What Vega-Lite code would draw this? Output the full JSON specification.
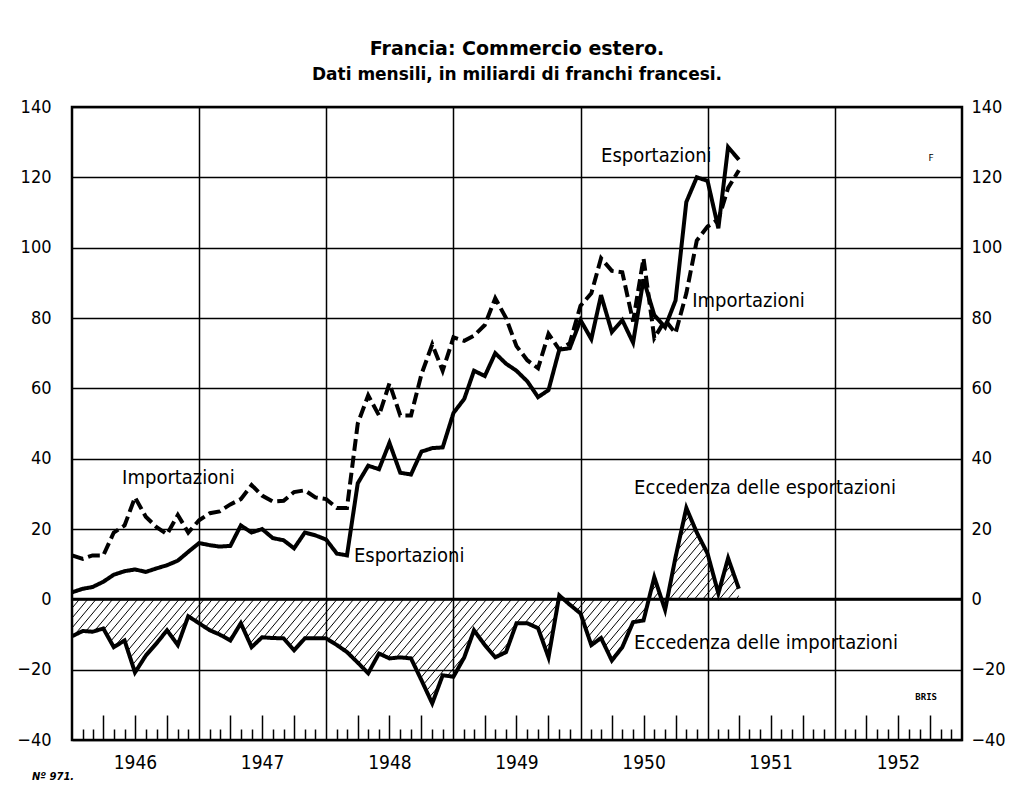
{
"$schema":"https://vega.github.io/schema/vega-lite/v6.json",
"width":890,"height":633,
"autosize":{"type":"none"},
"padding":{"left":72,"top":107,"right":48,"bottom":51},
"background":"white",
"title":{"text":"Francia: Commercio estero.","subtitle":"Dati mensili, in miliardi di franchi francesi.","anchor":"middle","font":"DejaVu Sans","fontSize":19,"fontWeight":"bold","color":"black","subtitleFont":"DejaVu Sans","subtitleFontSize":17,"subtitleFontWeight":"bold","subtitleColor":"black","subtitlePadding":8,"offset":15},
"config":{"view":{"stroke":"black","strokeWidth":2.5},"axis":{"labelColor":"black"}},
"datasets":{
"trade":[
{"date":"1946-01-01","serie":"Importazioni","value":12.5},{"date":"1946-02-01","serie":"Importazioni","value":11.5},{"date":"1946-03-01","serie":"Importazioni","value":12.5},{"date":"1946-04-01","serie":"Importazioni","value":12.5},{"date":"1946-05-01","serie":"Importazioni","value":19},{"date":"1946-06-01","serie":"Importazioni","value":21},{"date":"1946-07-01","serie":"Importazioni","value":29},{"date":"1946-08-01","serie":"Importazioni","value":23.5},{"date":"1946-09-01","serie":"Importazioni","value":20.5},{"date":"1946-10-01","serie":"Importazioni","value":18.5},{"date":"1946-11-01","serie":"Importazioni","value":24},{"date":"1946-12-01","serie":"Importazioni","value":19},
{"date":"1947-01-01","serie":"Importazioni","value":22.5},{"date":"1947-02-01","serie":"Importazioni","value":24.5},{"date":"1947-03-01","serie":"Importazioni","value":25},{"date":"1947-04-01","serie":"Importazioni","value":27},{"date":"1947-05-01","serie":"Importazioni","value":28.5},{"date":"1947-06-01","serie":"Importazioni","value":32.5},{"date":"1947-07-01","serie":"Importazioni","value":29.5},{"date":"1947-08-01","serie":"Importazioni","value":27.8},{"date":"1947-09-01","serie":"Importazioni","value":28},{"date":"1947-10-01","serie":"Importazioni","value":30.5},{"date":"1947-11-01","serie":"Importazioni","value":31},{"date":"1947-12-01","serie":"Importazioni","value":29},
{"date":"1948-01-01","serie":"Importazioni","value":28.5},{"date":"1948-02-01","serie":"Importazioni","value":26},{"date":"1948-03-01","serie":"Importazioni","value":26},{"date":"1948-04-01","serie":"Importazioni","value":50},{"date":"1948-05-01","serie":"Importazioni","value":58},{"date":"1948-06-01","serie":"Importazioni","value":52.3},{"date":"1948-07-01","serie":"Importazioni","value":61.4},{"date":"1948-08-01","serie":"Importazioni","value":52.3},{"date":"1948-09-01","serie":"Importazioni","value":52.3},{"date":"1948-10-01","serie":"Importazioni","value":64},{"date":"1948-11-01","serie":"Importazioni","value":72.5},{"date":"1948-12-01","serie":"Importazioni","value":65},
{"date":"1949-01-01","serie":"Importazioni","value":74.5},{"date":"1949-02-01","serie":"Importazioni","value":73.5},{"date":"1949-03-01","serie":"Importazioni","value":75},{"date":"1949-04-01","serie":"Importazioni","value":78},{"date":"1949-05-01","serie":"Importazioni","value":85.6},{"date":"1949-06-01","serie":"Importazioni","value":80},{"date":"1949-07-01","serie":"Importazioni","value":72},{"date":"1949-08-01","serie":"Importazioni","value":68},{"date":"1949-09-01","serie":"Importazioni","value":65.7},{"date":"1949-10-01","serie":"Importazioni","value":75.5},{"date":"1949-11-01","serie":"Importazioni","value":71},{"date":"1949-12-01","serie":"Importazioni","value":72.8},
{"date":"1950-01-01","serie":"Importazioni","value":83.5},{"date":"1950-02-01","serie":"Importazioni","value":87},{"date":"1950-03-01","serie":"Importazioni","value":97},{"date":"1950-04-01","serie":"Importazioni","value":93.4},{"date":"1950-05-01","serie":"Importazioni","value":93},{"date":"1950-06-01","serie":"Importazioni","value":79},{"date":"1950-07-01","serie":"Importazioni","value":97},{"date":"1950-08-01","serie":"Importazioni","value":74.3},{"date":"1950-09-01","serie":"Importazioni","value":79.4},{"date":"1950-10-01","serie":"Importazioni","value":75.7},{"date":"1950-11-01","serie":"Importazioni","value":87},{"date":"1950-12-01","serie":"Importazioni","value":102},
{"date":"1951-01-01","serie":"Importazioni","value":106},{"date":"1951-02-01","serie":"Importazioni","value":108},{"date":"1951-03-01","serie":"Importazioni","value":117},{"date":"1951-04-01","serie":"Importazioni","value":122},
{"date":"1946-01-01","serie":"Esportazioni","value":2},{"date":"1946-02-01","serie":"Esportazioni","value":3},{"date":"1946-03-01","serie":"Esportazioni","value":3.5},{"date":"1946-04-01","serie":"Esportazioni","value":5},{"date":"1946-05-01","serie":"Esportazioni","value":7},{"date":"1946-06-01","serie":"Esportazioni","value":8},{"date":"1946-07-01","serie":"Esportazioni","value":8.5},{"date":"1946-08-01","serie":"Esportazioni","value":7.8},{"date":"1946-09-01","serie":"Esportazioni","value":8.8},{"date":"1946-10-01","serie":"Esportazioni","value":9.7},{"date":"1946-11-01","serie":"Esportazioni","value":11},{"date":"1946-12-01","serie":"Esportazioni","value":13.5},
{"date":"1947-01-01","serie":"Esportazioni","value":16},{"date":"1947-02-01","serie":"Esportazioni","value":15.4},{"date":"1947-03-01","serie":"Esportazioni","value":15},{"date":"1947-04-01","serie":"Esportazioni","value":15.2},{"date":"1947-05-01","serie":"Esportazioni","value":21},{"date":"1947-06-01","serie":"Esportazioni","value":19},{"date":"1947-07-01","serie":"Esportazioni","value":20},{"date":"1947-08-01","serie":"Esportazioni","value":17.4},{"date":"1947-09-01","serie":"Esportazioni","value":16.8},{"date":"1947-10-01","serie":"Esportazioni","value":14.5},{"date":"1947-11-01","serie":"Esportazioni","value":19},{"date":"1947-12-01","serie":"Esportazioni","value":18.2},
{"date":"1948-01-01","serie":"Esportazioni","value":17},{"date":"1948-02-01","serie":"Esportazioni","value":13},{"date":"1948-03-01","serie":"Esportazioni","value":12.5},{"date":"1948-04-01","serie":"Esportazioni","value":33},{"date":"1948-05-01","serie":"Esportazioni","value":38},{"date":"1948-06-01","serie":"Esportazioni","value":37},{"date":"1948-07-01","serie":"Esportazioni","value":44.5},{"date":"1948-08-01","serie":"Esportazioni","value":36},{"date":"1948-09-01","serie":"Esportazioni","value":35.5},{"date":"1948-10-01","serie":"Esportazioni","value":42},{"date":"1948-11-01","serie":"Esportazioni","value":43},{"date":"1948-12-01","serie":"Esportazioni","value":43.2},
{"date":"1949-01-01","serie":"Esportazioni","value":53},{"date":"1949-02-01","serie":"Esportazioni","value":57},{"date":"1949-03-01","serie":"Esportazioni","value":65},{"date":"1949-04-01","serie":"Esportazioni","value":63.5},{"date":"1949-05-01","serie":"Esportazioni","value":70},{"date":"1949-06-01","serie":"Esportazioni","value":67},{"date":"1949-07-01","serie":"Esportazioni","value":65},{"date":"1949-08-01","serie":"Esportazioni","value":62},{"date":"1949-09-01","serie":"Esportazioni","value":57.5},{"date":"1949-10-01","serie":"Esportazioni","value":59.5},{"date":"1949-11-01","serie":"Esportazioni","value":71},{"date":"1949-12-01","serie":"Esportazioni","value":71.4},
{"date":"1950-01-01","serie":"Esportazioni","value":79.4},{"date":"1950-02-01","serie":"Esportazioni","value":74},{"date":"1950-03-01","serie":"Esportazioni","value":86.5},{"date":"1950-04-01","serie":"Esportazioni","value":76},{"date":"1950-05-01","serie":"Esportazioni","value":79.4},{"date":"1950-06-01","serie":"Esportazioni","value":73},{"date":"1950-07-01","serie":"Esportazioni","value":91},{"date":"1950-08-01","serie":"Esportazioni","value":80.8},{"date":"1950-09-01","serie":"Esportazioni","value":77.4},{"date":"1950-10-01","serie":"Esportazioni","value":85},{"date":"1950-11-01","serie":"Esportazioni","value":113},{"date":"1950-12-01","serie":"Esportazioni","value":120},
{"date":"1951-01-01","serie":"Esportazioni","value":119},{"date":"1951-02-01","serie":"Esportazioni","value":105.5},{"date":"1951-03-01","serie":"Esportazioni","value":128.6},{"date":"1951-04-01","serie":"Esportazioni","value":125},
{"date":"1946-01-01","serie":"Saldo","value":-10.5},{"date":"1946-02-01","serie":"Saldo","value":-9},{"date":"1946-03-01","serie":"Saldo","value":-9.2},{"date":"1946-04-01","serie":"Saldo","value":-8.3},{"date":"1946-05-01","serie":"Saldo","value":-13.6},{"date":"1946-06-01","serie":"Saldo","value":-11.7},{"date":"1946-07-01","serie":"Saldo","value":-20.8},{"date":"1946-08-01","serie":"Saldo","value":-16},{"date":"1946-09-01","serie":"Saldo","value":-12.5},{"date":"1946-10-01","serie":"Saldo","value":-8.8},{"date":"1946-11-01","serie":"Saldo","value":-13},{"date":"1946-12-01","serie":"Saldo","value":-4.8},
{"date":"1947-01-01","serie":"Saldo","value":-6.8},{"date":"1947-02-01","serie":"Saldo","value":-8.8},{"date":"1947-03-01","serie":"Saldo","value":-10},{"date":"1947-04-01","serie":"Saldo","value":-11.7},{"date":"1947-05-01","serie":"Saldo","value":-6.8},{"date":"1947-06-01","serie":"Saldo","value":-13.6},{"date":"1947-07-01","serie":"Saldo","value":-10.8},{"date":"1947-08-01","serie":"Saldo","value":-11},{"date":"1947-09-01","serie":"Saldo","value":-11.1},{"date":"1947-10-01","serie":"Saldo","value":-14.5},{"date":"1947-11-01","serie":"Saldo","value":-11.1},{"date":"1947-12-01","serie":"Saldo","value":-11.1},
{"date":"1948-01-01","serie":"Saldo","value":-11.1},{"date":"1948-02-01","serie":"Saldo","value":-13},{"date":"1948-03-01","serie":"Saldo","value":-15},{"date":"1948-04-01","serie":"Saldo","value":-18},{"date":"1948-05-01","serie":"Saldo","value":-21},{"date":"1948-06-01","serie":"Saldo","value":-15.4},{"date":"1948-07-01","serie":"Saldo","value":-16.8},{"date":"1948-08-01","serie":"Saldo","value":-16.5},{"date":"1948-09-01","serie":"Saldo","value":-16.8},{"date":"1948-10-01","serie":"Saldo","value":-23},{"date":"1948-11-01","serie":"Saldo","value":-29.6},{"date":"1948-12-01","serie":"Saldo","value":-21.6},
{"date":"1949-01-01","serie":"Saldo","value":-22},{"date":"1949-02-01","serie":"Saldo","value":-16.5},{"date":"1949-03-01","serie":"Saldo","value":-8.8},{"date":"1949-04-01","serie":"Saldo","value":-13},{"date":"1949-05-01","serie":"Saldo","value":-16.5},{"date":"1949-06-01","serie":"Saldo","value":-15},{"date":"1949-07-01","serie":"Saldo","value":-6.8},{"date":"1949-08-01","serie":"Saldo","value":-6.8},{"date":"1949-09-01","serie":"Saldo","value":-8.2},{"date":"1949-10-01","serie":"Saldo","value":-16.5},{"date":"1949-11-01","serie":"Saldo","value":1.1},{"date":"1949-12-01","serie":"Saldo","value":-1.5},
{"date":"1950-01-01","serie":"Saldo","value":-4},{"date":"1950-02-01","serie":"Saldo","value":-13},{"date":"1950-03-01","serie":"Saldo","value":-11},{"date":"1950-04-01","serie":"Saldo","value":-17.4},{"date":"1950-05-01","serie":"Saldo","value":-13.6},{"date":"1950-06-01","serie":"Saldo","value":-6.5},{"date":"1950-07-01","serie":"Saldo","value":-6},{"date":"1950-08-01","serie":"Saldo","value":6.3},{"date":"1950-09-01","serie":"Saldo","value":-3},{"date":"1950-10-01","serie":"Saldo","value":12},{"date":"1950-11-01","serie":"Saldo","value":26},{"date":"1950-12-01","serie":"Saldo","value":19},
{"date":"1951-01-01","serie":"Saldo","value":13},{"date":"1951-02-01","serie":"Saldo","value":1.7},{"date":"1951-03-01","serie":"Saldo","value":11.7},{"date":"1951-04-01","serie":"Saldo","value":3}
],
"labels":[
{"date":"1946-05-25","value":34.4,"text":"Importazioni"},
{"date":"1948-03-21","value":12.3,"text":"Esportazioni"},
{"date":"1950-03-01","value":126,"text":"Esportazioni"},
{"date":"1950-11-18","value":84.8,"text":"Importazioni"},
{"date":"1950-06-04","value":31.6,"text":"Eccedenza delle esportazioni"},
{"date":"1950-06-04","value":-12.5,"text":"Eccedenza delle importazioni"}
]
},
"layer":[
{"data":{"name":"trade"},
 "transform":[{"filter":"datum.serie === 'Saldo'"}],
 "mark":{"type":"area","interpolate":"linear","fill":{"gradient":"linear","x1":0,"y1":0,"x2":1.175,"y2":0.289,"stops":[
{"offset":0,"color":"rgba(0,0,0,0)"},{"offset":0.0012,"color":"#000"},{"offset":0.0024,"color":"rgba(0,0,0,0)"},
{"offset":0.01,"color":"rgba(0,0,0,0)"},{"offset":0.0112,"color":"#000"},{"offset":0.0124,"color":"rgba(0,0,0,0)"},
{"offset":0.02,"color":"rgba(0,0,0,0)"},{"offset":0.0212,"color":"#000"},{"offset":0.0224,"color":"rgba(0,0,0,0)"},
{"offset":0.03,"color":"rgba(0,0,0,0)"},{"offset":0.0312,"color":"#000"},{"offset":0.0324,"color":"rgba(0,0,0,0)"},
{"offset":0.04,"color":"rgba(0,0,0,0)"},{"offset":0.0412,"color":"#000"},{"offset":0.0424,"color":"rgba(0,0,0,0)"},
{"offset":0.05,"color":"rgba(0,0,0,0)"},{"offset":0.0512,"color":"#000"},{"offset":0.0524,"color":"rgba(0,0,0,0)"},
{"offset":0.06,"color":"rgba(0,0,0,0)"},{"offset":0.0612,"color":"#000"},{"offset":0.0624,"color":"rgba(0,0,0,0)"},
{"offset":0.07,"color":"rgba(0,0,0,0)"},{"offset":0.0712,"color":"#000"},{"offset":0.0724,"color":"rgba(0,0,0,0)"},
{"offset":0.08,"color":"rgba(0,0,0,0)"},{"offset":0.0812,"color":"#000"},{"offset":0.0824,"color":"rgba(0,0,0,0)"},
{"offset":0.09,"color":"rgba(0,0,0,0)"},{"offset":0.0912,"color":"#000"},{"offset":0.0924,"color":"rgba(0,0,0,0)"},
{"offset":0.10,"color":"rgba(0,0,0,0)"},{"offset":0.1012,"color":"#000"},{"offset":0.1024,"color":"rgba(0,0,0,0)"},
{"offset":0.11,"color":"rgba(0,0,0,0)"},{"offset":0.1112,"color":"#000"},{"offset":0.1124,"color":"rgba(0,0,0,0)"},
{"offset":0.12,"color":"rgba(0,0,0,0)"},{"offset":0.1212,"color":"#000"},{"offset":0.1224,"color":"rgba(0,0,0,0)"},
{"offset":0.13,"color":"rgba(0,0,0,0)"},{"offset":0.1312,"color":"#000"},{"offset":0.1324,"color":"rgba(0,0,0,0)"},
{"offset":0.14,"color":"rgba(0,0,0,0)"},{"offset":0.1412,"color":"#000"},{"offset":0.1424,"color":"rgba(0,0,0,0)"},
{"offset":0.15,"color":"rgba(0,0,0,0)"},{"offset":0.1512,"color":"#000"},{"offset":0.1524,"color":"rgba(0,0,0,0)"},
{"offset":0.16,"color":"rgba(0,0,0,0)"},{"offset":0.1612,"color":"#000"},{"offset":0.1624,"color":"rgba(0,0,0,0)"},
{"offset":0.17,"color":"rgba(0,0,0,0)"},{"offset":0.1712,"color":"#000"},{"offset":0.1724,"color":"rgba(0,0,0,0)"},
{"offset":0.18,"color":"rgba(0,0,0,0)"},{"offset":0.1812,"color":"#000"},{"offset":0.1824,"color":"rgba(0,0,0,0)"},
{"offset":0.19,"color":"rgba(0,0,0,0)"},{"offset":0.1912,"color":"#000"},{"offset":0.1924,"color":"rgba(0,0,0,0)"},
{"offset":0.20,"color":"rgba(0,0,0,0)"},{"offset":0.2012,"color":"#000"},{"offset":0.2024,"color":"rgba(0,0,0,0)"},
{"offset":0.21,"color":"rgba(0,0,0,0)"},{"offset":0.2112,"color":"#000"},{"offset":0.2124,"color":"rgba(0,0,0,0)"},
{"offset":0.22,"color":"rgba(0,0,0,0)"},{"offset":0.2212,"color":"#000"},{"offset":0.2224,"color":"rgba(0,0,0,0)"},
{"offset":0.23,"color":"rgba(0,0,0,0)"},{"offset":0.2312,"color":"#000"},{"offset":0.2324,"color":"rgba(0,0,0,0)"},
{"offset":0.24,"color":"rgba(0,0,0,0)"},{"offset":0.2412,"color":"#000"},{"offset":0.2424,"color":"rgba(0,0,0,0)"},
{"offset":0.25,"color":"rgba(0,0,0,0)"},{"offset":0.2512,"color":"#000"},{"offset":0.2524,"color":"rgba(0,0,0,0)"},
{"offset":0.26,"color":"rgba(0,0,0,0)"},{"offset":0.2612,"color":"#000"},{"offset":0.2624,"color":"rgba(0,0,0,0)"},
{"offset":0.27,"color":"rgba(0,0,0,0)"},{"offset":0.2712,"color":"#000"},{"offset":0.2724,"color":"rgba(0,0,0,0)"},
{"offset":0.28,"color":"rgba(0,0,0,0)"},{"offset":0.2812,"color":"#000"},{"offset":0.2824,"color":"rgba(0,0,0,0)"},
{"offset":0.29,"color":"rgba(0,0,0,0)"},{"offset":0.2912,"color":"#000"},{"offset":0.2924,"color":"rgba(0,0,0,0)"},
{"offset":0.30,"color":"rgba(0,0,0,0)"},{"offset":0.3012,"color":"#000"},{"offset":0.3024,"color":"rgba(0,0,0,0)"},
{"offset":0.31,"color":"rgba(0,0,0,0)"},{"offset":0.3112,"color":"#000"},{"offset":0.3124,"color":"rgba(0,0,0,0)"},
{"offset":0.32,"color":"rgba(0,0,0,0)"},{"offset":0.3212,"color":"#000"},{"offset":0.3224,"color":"rgba(0,0,0,0)"},
{"offset":0.33,"color":"rgba(0,0,0,0)"},{"offset":0.3312,"color":"#000"},{"offset":0.3324,"color":"rgba(0,0,0,0)"},
{"offset":0.34,"color":"rgba(0,0,0,0)"},{"offset":0.3412,"color":"#000"},{"offset":0.3424,"color":"rgba(0,0,0,0)"},
{"offset":0.35,"color":"rgba(0,0,0,0)"},{"offset":0.3512,"color":"#000"},{"offset":0.3524,"color":"rgba(0,0,0,0)"},
{"offset":0.36,"color":"rgba(0,0,0,0)"},{"offset":0.3612,"color":"#000"},{"offset":0.3624,"color":"rgba(0,0,0,0)"},
{"offset":0.37,"color":"rgba(0,0,0,0)"},{"offset":0.3712,"color":"#000"},{"offset":0.3724,"color":"rgba(0,0,0,0)"},
{"offset":0.38,"color":"rgba(0,0,0,0)"},{"offset":0.3812,"color":"#000"},{"offset":0.3824,"color":"rgba(0,0,0,0)"},
{"offset":0.39,"color":"rgba(0,0,0,0)"},{"offset":0.3912,"color":"#000"},{"offset":0.3924,"color":"rgba(0,0,0,0)"},
{"offset":0.40,"color":"rgba(0,0,0,0)"},{"offset":0.4012,"color":"#000"},{"offset":0.4024,"color":"rgba(0,0,0,0)"},
{"offset":0.41,"color":"rgba(0,0,0,0)"},{"offset":0.4112,"color":"#000"},{"offset":0.4124,"color":"rgba(0,0,0,0)"},
{"offset":0.42,"color":"rgba(0,0,0,0)"},{"offset":0.4212,"color":"#000"},{"offset":0.4224,"color":"rgba(0,0,0,0)"},
{"offset":0.43,"color":"rgba(0,0,0,0)"},{"offset":0.4312,"color":"#000"},{"offset":0.4324,"color":"rgba(0,0,0,0)"},
{"offset":0.44,"color":"rgba(0,0,0,0)"},{"offset":0.4412,"color":"#000"},{"offset":0.4424,"color":"rgba(0,0,0,0)"},
{"offset":0.45,"color":"rgba(0,0,0,0)"},{"offset":0.4512,"color":"#000"},{"offset":0.4524,"color":"rgba(0,0,0,0)"},
{"offset":0.46,"color":"rgba(0,0,0,0)"},{"offset":0.4612,"color":"#000"},{"offset":0.4624,"color":"rgba(0,0,0,0)"},
{"offset":0.47,"color":"rgba(0,0,0,0)"},{"offset":0.4712,"color":"#000"},{"offset":0.4724,"color":"rgba(0,0,0,0)"},
{"offset":0.48,"color":"rgba(0,0,0,0)"},{"offset":0.4812,"color":"#000"},{"offset":0.4824,"color":"rgba(0,0,0,0)"},
{"offset":0.49,"color":"rgba(0,0,0,0)"},{"offset":0.4912,"color":"#000"},{"offset":0.4924,"color":"rgba(0,0,0,0)"},
{"offset":0.50,"color":"rgba(0,0,0,0)"},{"offset":0.5012,"color":"#000"},{"offset":0.5024,"color":"rgba(0,0,0,0)"},
{"offset":0.51,"color":"rgba(0,0,0,0)"},{"offset":0.5112,"color":"#000"},{"offset":0.5124,"color":"rgba(0,0,0,0)"},
{"offset":0.52,"color":"rgba(0,0,0,0)"},{"offset":0.5212,"color":"#000"},{"offset":0.5224,"color":"rgba(0,0,0,0)"},
{"offset":0.53,"color":"rgba(0,0,0,0)"},{"offset":0.5312,"color":"#000"},{"offset":0.5324,"color":"rgba(0,0,0,0)"},
{"offset":0.54,"color":"rgba(0,0,0,0)"},{"offset":0.5412,"color":"#000"},{"offset":0.5424,"color":"rgba(0,0,0,0)"},
{"offset":0.55,"color":"rgba(0,0,0,0)"},{"offset":0.5512,"color":"#000"},{"offset":0.5524,"color":"rgba(0,0,0,0)"},
{"offset":0.56,"color":"rgba(0,0,0,0)"},{"offset":0.5612,"color":"#000"},{"offset":0.5624,"color":"rgba(0,0,0,0)"},
{"offset":0.57,"color":"rgba(0,0,0,0)"},{"offset":0.5712,"color":"#000"},{"offset":0.5724,"color":"rgba(0,0,0,0)"},
{"offset":0.58,"color":"rgba(0,0,0,0)"},{"offset":0.5812,"color":"#000"},{"offset":0.5824,"color":"rgba(0,0,0,0)"},
{"offset":0.59,"color":"rgba(0,0,0,0)"},{"offset":0.5912,"color":"#000"},{"offset":0.5924,"color":"rgba(0,0,0,0)"},
{"offset":0.60,"color":"rgba(0,0,0,0)"},{"offset":0.6012,"color":"#000"},{"offset":0.6024,"color":"rgba(0,0,0,0)"},
{"offset":0.61,"color":"rgba(0,0,0,0)"},{"offset":0.6112,"color":"#000"},{"offset":0.6124,"color":"rgba(0,0,0,0)"},
{"offset":0.62,"color":"rgba(0,0,0,0)"},{"offset":0.6212,"color":"#000"},{"offset":0.6224,"color":"rgba(0,0,0,0)"},
{"offset":0.63,"color":"rgba(0,0,0,0)"},{"offset":0.6312,"color":"#000"},{"offset":0.6324,"color":"rgba(0,0,0,0)"},
{"offset":0.64,"color":"rgba(0,0,0,0)"},{"offset":0.6412,"color":"#000"},{"offset":0.6424,"color":"rgba(0,0,0,0)"},
{"offset":0.65,"color":"rgba(0,0,0,0)"},{"offset":0.6512,"color":"#000"},{"offset":0.6524,"color":"rgba(0,0,0,0)"},
{"offset":0.66,"color":"rgba(0,0,0,0)"},{"offset":0.6612,"color":"#000"},{"offset":0.6624,"color":"rgba(0,0,0,0)"},
{"offset":0.67,"color":"rgba(0,0,0,0)"},{"offset":0.6712,"color":"#000"},{"offset":0.6724,"color":"rgba(0,0,0,0)"},
{"offset":0.68,"color":"rgba(0,0,0,0)"},{"offset":0.6812,"color":"#000"},{"offset":0.6824,"color":"rgba(0,0,0,0)"},
{"offset":0.69,"color":"rgba(0,0,0,0)"},{"offset":0.6912,"color":"#000"},{"offset":0.6924,"color":"rgba(0,0,0,0)"},
{"offset":0.70,"color":"rgba(0,0,0,0)"},{"offset":0.7012,"color":"#000"},{"offset":0.7024,"color":"rgba(0,0,0,0)"},
{"offset":0.71,"color":"rgba(0,0,0,0)"},{"offset":0.7112,"color":"#000"},{"offset":0.7124,"color":"rgba(0,0,0,0)"},
{"offset":0.72,"color":"rgba(0,0,0,0)"},{"offset":0.7212,"color":"#000"},{"offset":0.7224,"color":"rgba(0,0,0,0)"},
{"offset":0.73,"color":"rgba(0,0,0,0)"},{"offset":0.7312,"color":"#000"},{"offset":0.7324,"color":"rgba(0,0,0,0)"},
{"offset":0.74,"color":"rgba(0,0,0,0)"},{"offset":0.7412,"color":"#000"},{"offset":0.7424,"color":"rgba(0,0,0,0)"},
{"offset":0.75,"color":"rgba(0,0,0,0)"},{"offset":0.7512,"color":"#000"},{"offset":0.7524,"color":"rgba(0,0,0,0)"},
{"offset":0.76,"color":"rgba(0,0,0,0)"},{"offset":0.7612,"color":"#000"},{"offset":0.7624,"color":"rgba(0,0,0,0)"},
{"offset":0.77,"color":"rgba(0,0,0,0)"},{"offset":0.7712,"color":"#000"},{"offset":0.7724,"color":"rgba(0,0,0,0)"},
{"offset":0.78,"color":"rgba(0,0,0,0)"},{"offset":0.7812,"color":"#000"},{"offset":0.7824,"color":"rgba(0,0,0,0)"},
{"offset":0.79,"color":"rgba(0,0,0,0)"},{"offset":0.7912,"color":"#000"},{"offset":0.7924,"color":"rgba(0,0,0,0)"},
{"offset":0.80,"color":"rgba(0,0,0,0)"},{"offset":0.8012,"color":"#000"},{"offset":0.8024,"color":"rgba(0,0,0,0)"},
{"offset":0.81,"color":"rgba(0,0,0,0)"},{"offset":0.8112,"color":"#000"},{"offset":0.8124,"color":"rgba(0,0,0,0)"},
{"offset":0.82,"color":"rgba(0,0,0,0)"},{"offset":0.8212,"color":"#000"},{"offset":0.8224,"color":"rgba(0,0,0,0)"},
{"offset":0.83,"color":"rgba(0,0,0,0)"},{"offset":0.8312,"color":"#000"},{"offset":0.8324,"color":"rgba(0,0,0,0)"},
{"offset":0.84,"color":"rgba(0,0,0,0)"},{"offset":0.8412,"color":"#000"},{"offset":0.8424,"color":"rgba(0,0,0,0)"},
{"offset":0.85,"color":"rgba(0,0,0,0)"},{"offset":0.8512,"color":"#000"},{"offset":0.8524,"color":"rgba(0,0,0,0)"},
{"offset":0.86,"color":"rgba(0,0,0,0)"},{"offset":0.8612,"color":"#000"},{"offset":0.8624,"color":"rgba(0,0,0,0)"},
{"offset":0.87,"color":"rgba(0,0,0,0)"},{"offset":0.8712,"color":"#000"},{"offset":0.8724,"color":"rgba(0,0,0,0)"},
{"offset":0.88,"color":"rgba(0,0,0,0)"},{"offset":0.8812,"color":"#000"},{"offset":0.8824,"color":"rgba(0,0,0,0)"},
{"offset":0.89,"color":"rgba(0,0,0,0)"},{"offset":0.8912,"color":"#000"},{"offset":0.8924,"color":"rgba(0,0,0,0)"},
{"offset":0.90,"color":"rgba(0,0,0,0)"},{"offset":0.9012,"color":"#000"},{"offset":0.9024,"color":"rgba(0,0,0,0)"},
{"offset":0.91,"color":"rgba(0,0,0,0)"},{"offset":0.9112,"color":"#000"},{"offset":0.9124,"color":"rgba(0,0,0,0)"},
{"offset":0.92,"color":"rgba(0,0,0,0)"},{"offset":0.9212,"color":"#000"},{"offset":0.9224,"color":"rgba(0,0,0,0)"},
{"offset":0.93,"color":"rgba(0,0,0,0)"},{"offset":0.9312,"color":"#000"},{"offset":0.9324,"color":"rgba(0,0,0,0)"},
{"offset":0.94,"color":"rgba(0,0,0,0)"},{"offset":0.9412,"color":"#000"},{"offset":0.9424,"color":"rgba(0,0,0,0)"},
{"offset":0.95,"color":"rgba(0,0,0,0)"},{"offset":0.9512,"color":"#000"},{"offset":0.9524,"color":"rgba(0,0,0,0)"},
{"offset":0.96,"color":"rgba(0,0,0,0)"},{"offset":0.9612,"color":"#000"},{"offset":0.9624,"color":"rgba(0,0,0,0)"},
{"offset":0.97,"color":"rgba(0,0,0,0)"},{"offset":0.9712,"color":"#000"},{"offset":0.9724,"color":"rgba(0,0,0,0)"},
{"offset":0.98,"color":"rgba(0,0,0,0)"},{"offset":0.9812,"color":"#000"},{"offset":0.9824,"color":"rgba(0,0,0,0)"},
{"offset":0.99,"color":"rgba(0,0,0,0)"},{"offset":0.9912,"color":"#000"},{"offset":0.9924,"color":"rgba(0,0,0,0)"},
{"offset":1,"color":"rgba(0,0,0,0)"}
]}},
 "encoding":{
  "x":{"field":"date","type":"temporal","scale":{"type":"utc","domain":[{"year":1946,"month":1,"date":1,"utc":true},{"year":1953,"month":1,"date":1,"utc":true}]},
   "axis":{"orient":"bottom","title":null,"domain":false,"ticks":false,"labels":false,"grid":true,"gridColor":"black","gridWidth":1.5,
    "values":[{"year":1947,"month":1,"utc":true},{"year":1948,"month":1,"utc":true},{"year":1949,"month":1,"utc":true},{"year":1950,"month":1,"utc":true},{"year":1951,"month":1,"utc":true},{"year":1952,"month":1,"utc":true}]}},
  "y":{"field":"value","type":"quantitative","scale":{"domain":[-40,140],"nice":false,"zero":false},
   "axis":{"orient":"left","title":null,"values":[-40,-20,0,20,40,60,80,100,120,140],"grid":true,"gridColor":"black","gridWidth":1.5,"domain":false,"ticks":false,"labelPadding":21,"labelFlush":false,"labelFont":"Liberation Sans Narrow, DejaVu Sans Condensed, sans-serif","labelFontSize":18,"labelColor":"black"}},
  "y2":{"datum":0}
 }},
{"data":{"values":[{}]},
 "mark":{"type":"rule","color":"black","strokeWidth":3},
 "encoding":{"y":{"datum":0,"type":"quantitative","axis":null}}},
{"data":{"name":"trade"},
 "mark":{"type":"line","color":"black","strokeWidth":4,"strokeJoin":"miter","strokeCap":"butt"},
 "encoding":{
  "x":{"field":"date","type":"temporal","axis":{"orient":"bottom","title":null,"domain":false,"grid":false,"labels":false,"ticks":true,"tickColor":"black","tickWidth":1.5,"tickSize":-11,
    "values":[{"year":1946,"month":2,"utc":true},{"year":1946,"month":3,"utc":true},{"year":1946,"month":5,"utc":true},{"year":1946,"month":6,"utc":true},{"year":1946,"month":8,"utc":true},{"year":1946,"month":9,"utc":true},{"year":1946,"month":11,"utc":true},{"year":1946,"month":12,"utc":true},
    {"year":1947,"month":2,"utc":true},{"year":1947,"month":3,"utc":true},{"year":1947,"month":5,"utc":true},{"year":1947,"month":6,"utc":true},{"year":1947,"month":8,"utc":true},{"year":1947,"month":9,"utc":true},{"year":1947,"month":11,"utc":true},{"year":1947,"month":12,"utc":true},
    {"year":1948,"month":2,"utc":true},{"year":1948,"month":3,"utc":true},{"year":1948,"month":5,"utc":true},{"year":1948,"month":6,"utc":true},{"year":1948,"month":8,"utc":true},{"year":1948,"month":9,"utc":true},{"year":1948,"month":11,"utc":true},{"year":1948,"month":12,"utc":true},
    {"year":1949,"month":2,"utc":true},{"year":1949,"month":3,"utc":true},{"year":1949,"month":5,"utc":true},{"year":1949,"month":6,"utc":true},{"year":1949,"month":8,"utc":true},{"year":1949,"month":9,"utc":true},{"year":1949,"month":11,"utc":true},{"year":1949,"month":12,"utc":true},
    {"year":1950,"month":2,"utc":true},{"year":1950,"month":3,"utc":true},{"year":1950,"month":5,"utc":true},{"year":1950,"month":6,"utc":true},{"year":1950,"month":8,"utc":true},{"year":1950,"month":9,"utc":true},{"year":1950,"month":11,"utc":true},{"year":1950,"month":12,"utc":true},
    {"year":1951,"month":2,"utc":true},{"year":1951,"month":3,"utc":true},{"year":1951,"month":5,"utc":true},{"year":1951,"month":6,"utc":true},{"year":1951,"month":8,"utc":true},{"year":1951,"month":9,"utc":true},{"year":1951,"month":11,"utc":true},{"year":1951,"month":12,"utc":true},
    {"year":1952,"month":2,"utc":true},{"year":1952,"month":3,"utc":true},{"year":1952,"month":5,"utc":true},{"year":1952,"month":6,"utc":true},{"year":1952,"month":8,"utc":true},{"year":1952,"month":9,"utc":true},{"year":1952,"month":11,"utc":true},{"year":1952,"month":12,"utc":true}]}},
  "y":{"field":"value","type":"quantitative","axis":{"orient":"right","title":null,"values":[-40,-20,0,20,40,60,80,100,120,140],"grid":false,"domain":false,"ticks":false,"labelPadding":9,"labelFlush":false,"labelFont":"Liberation Sans Narrow, DejaVu Sans Condensed, sans-serif","labelFontSize":18,"labelColor":"black"}},
  "strokeDash":{"field":"serie","type":"nominal","scale":{"domain":["Importazioni","Esportazioni","Saldo"],"range":[[12,5],[1,0],[1,0]]},"legend":null}
 }},
{"data":{"name":"labels"},
 "mark":{"type":"text","align":"left","baseline":"middle","font":"DejaVu Sans Condensed, Liberation Sans Narrow, sans-serif","fontSize":20,"color":"black"},
 "encoding":{
  "x":{"field":"date","type":"temporal","axis":{"orient":"bottom","title":null,"domain":false,"grid":false,"labels":false,"ticks":true,"tickColor":"black","tickWidth":1.5,"tickSize":-25,
    "values":[{"year":1946,"month":4,"utc":true},{"year":1946,"month":7,"utc":true},{"year":1946,"month":10,"utc":true},
    {"year":1947,"month":4,"utc":true},{"year":1947,"month":7,"utc":true},{"year":1947,"month":10,"utc":true},
    {"year":1948,"month":4,"utc":true},{"year":1948,"month":7,"utc":true},{"year":1948,"month":10,"utc":true},
    {"year":1949,"month":4,"utc":true},{"year":1949,"month":7,"utc":true},{"year":1949,"month":10,"utc":true},
    {"year":1950,"month":4,"utc":true},{"year":1950,"month":7,"utc":true},{"year":1950,"month":10,"utc":true},
    {"year":1951,"month":4,"utc":true},{"year":1951,"month":7,"utc":true},{"year":1951,"month":10,"utc":true},
    {"year":1952,"month":4,"utc":true},{"year":1952,"month":7,"utc":true},{"year":1952,"month":10,"utc":true}]}},
  "y":{"field":"value","type":"quantitative","axis":null},
  "text":{"field":"text"}
 }},
{"data":{"values":[{"date":"1952-10-04","value":125.5,"text":"F"}]},
 "mark":{"type":"text","align":"center","baseline":"middle","font":"DejaVu Sans","fontSize":9,"color":"black"},
 "encoding":{"x":{"field":"date","type":"temporal","axis":{"orient":"bottom","title":null,"domain":false,"grid":false,"ticks":false,"labels":true,"format":"%Y","labelPadding":13,"labelFlush":false,"labelOverlap":false,"labelFont":"Liberation Sans Narrow, DejaVu Sans Condensed, sans-serif","labelFontSize":19,"labelColor":"black",
    "values":[{"year":1946,"month":7,"utc":true},{"year":1947,"month":7,"utc":true},{"year":1948,"month":7,"utc":true},{"year":1949,"month":7,"utc":true},{"year":1950,"month":7,"utc":true},{"year":1951,"month":7,"utc":true},{"year":1952,"month":7,"utc":true}]}},
  "y":{"field":"value","type":"quantitative","axis":null},"text":{"field":"text"}}},
{"data":{"values":[{"date":"1945-09-08","value":-50.6,"text":"Nº 971."}]},
 "mark":{"type":"text","align":"left","baseline":"middle","font":"DejaVu Sans","fontSize":10,"fontStyle":"italic","fontWeight":"bold","color":"black"},
 "encoding":{"x":{"field":"date","type":"temporal","axis":null},"y":{"field":"value","type":"quantitative","axis":null},"text":{"field":"text"}}},
{"data":{"values":[{"date":"1952-09-20","value":-27.9,"text":"BRIS"}]},
 "mark":{"type":"text","align":"center","baseline":"middle","font":"DejaVu Sans Mono","fontSize":9,"fontWeight":"bold","color":"black"},
 "encoding":{"x":{"field":"date","type":"temporal","axis":null},"y":{"field":"value","type":"quantitative","axis":null},"text":{"field":"text"}}}
],
"resolve":{"axis":{"x":"independent","y":"independent"}}
}
